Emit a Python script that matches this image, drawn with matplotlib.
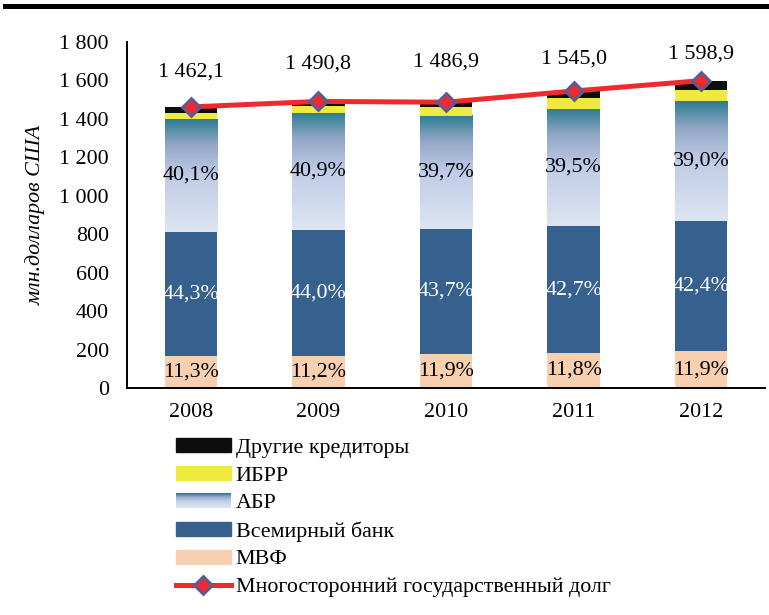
import numpy as np
import matplotlib
matplotlib.use("Agg")
import matplotlib.pyplot as plt
from matplotlib.colors import LinearSegmentedColormap
from matplotlib.patches import Rectangle
from matplotlib.lines import Line2D
from matplotlib.legend_handler import HandlerBase

# данные: млн. долларов США
anos = ["2008", "2009", "2010", "2011", "2012"]
mvf = [165.2, 167.0, 176.9, 182.3, 190.3]
vsemirny_bank = [647.7, 656.0, 649.8, 659.7, 677.9]
abr = [586.3, 609.7, 590.3, 610.3, 623.6]
ibrr = [34.0, 33.0, 45.0, 55.0, 58.0]
drugie = [28.9, 25.1, 24.9, 37.7, 49.1]
dolg_total = [1462.1, 1490.8, 1486.9, 1545.0, 1598.9]

# подписи долей, %
rotulos_mvf = ["11,3%", "11,2%", "11,9%", "11,8%", "11,9%"]
rotulos_vb = ["44,3%", "44,0%", "43,7%", "42,7%", "42,4%"]
rotulos_abr = ["40,1%", "40,9%", "39,7%", "39,5%", "39,0%"]
rotulos_total = ["1 462,1", "1 490,8", "1 486,9", "1 545,0", "1 598,9"]
yticks = [0, 200, 400, 600, 800, 1000, 1200, 1400, 1600, 1800]
yticklabels = ["0", "200", "400", "600", "800", "1 000", "1 200", "1 400", "1 600", "1 800"]

cor_mvf = "#F8CFAF"
cor_vb = "#36608D"
cor_ibrr = "#EEEA3E"
cor_drugie = "#0D0D0D"
cor_linha = "#EE2A2E"
cor_borda = "#5B5A99"
grad_abr = LinearSegmentedColormap.from_list(
    "abr", [(0.0, "#DDE5F2"), (0.5, "#C0CCE7"), (0.78, "#90A7C5"), (1.0, "#2E7C92")])

plt.rcParams["font.family"] = ["Liberation Serif", "DejaVu Serif"]
FS = 15.8


class HandlerGradiente(HandlerBase):
    """ desenha o retângulo com degradê na legenda """
    def create_artists(self, legend, orig_handle, xdescent, ydescent,
                       width, height, fontsize, trans):
        n = 30
        artistas = []
        for i in range(n):
            r = Rectangle((-xdescent, -ydescent + height * i / n), width, height / n + 0.3,
                          facecolor=grad_abr(i / (n - 1)), edgecolor="none", transform=trans)
            artistas.append(r)
        return artistas


fig = plt.figure(figsize=(7.69, 6.15), dpi=100)
ax = fig.add_axes([127 / 769, 1 - 388 / 615, (765 - 127) / 769, (388 - 42) / 615])

x = np.arange(len(anos))
largura = 0.41

b_mvf = np.array(mvf)
b_vb = b_mvf + np.array(vsemirny_bank)
b_abr = b_vb + np.array(abr)
b_ibrr = b_abr + np.array(ibrr)

ax.bar(x, mvf, largura, color=cor_mvf, zorder=2)
ax.bar(x, vsemirny_bank, largura, bottom=b_mvf, color=cor_vb, zorder=2)
# АБР - degradê
for i in range(len(x)):
    grad = np.linspace(0, 1, 200).reshape(-1, 1)
    ax.imshow(grad, extent=[x[i] - largura / 2, x[i] + largura / 2, b_vb[i], b_abr[i]],
              origin="lower", cmap=grad_abr, aspect="auto", zorder=2)
ax.bar(x, ibrr, largura, bottom=b_abr, color=cor_ibrr, zorder=2)
ax.bar(x, drugie, largura, bottom=b_ibrr, color=cor_drugie, zorder=2)

ax.plot(x, dolg_total, color=cor_linha, lw=3.6, marker="D", markersize=9.5,
        markerfacecolor=cor_linha, markeredgecolor=cor_borda, markeredgewidth=2, zorder=4)

# подписи
for i in range(len(x)):
    ax.text(x[i], mvf[i] / 2, rotulos_mvf[i], ha="center", va="center", fontsize=FS, zorder=5)
    ax.text(x[i], b_mvf[i] + vsemirny_bank[i] / 2, rotulos_vb[i], ha="center", va="center",
            fontsize=FS, color="white", zorder=5)
    ax.text(x[i], b_vb[i] + abr[i] / 2, rotulos_abr[i], ha="center", va="center",
            fontsize=FS, zorder=5)

desloc = [25, 27, 29, 23, 19]
for i in range(len(x)):
    ax.annotate(rotulos_total[i], (x[i], dolg_total[i]), xytext=(0, desloc[i]),
                textcoords="offset points", ha="center", va="center", fontsize=FS, zorder=5)

ax.set_xlim(-0.5, len(anos) - 0.5)
ax.set_ylim(0, 1800)
ax.set_xticks(x)
ax.set_xticklabels(anos, fontsize=FS)
ax.set_yticks(yticks)
ax.set_yticklabels(yticklabels, fontsize=FS)
ax.tick_params(axis="both", length=0)
ax.tick_params(axis="x", pad=11)
ax.tick_params(axis="y", pad=13)
for lado in ["top", "right"]:
    ax.spines[lado].set_visible(False)
for lado in ["left", "bottom"]:
    ax.spines[lado].set_linewidth(1.4)
ax.set_ylabel("млн.долларов США", fontsize=FS, fontstyle="italic", labelpad=10)

# legenda
handles = [
    Rectangle((0, 0), 1, 1, color=cor_drugie),
    Rectangle((0, 0), 1, 1, color=cor_ibrr),
    Rectangle((0, 0), 1, 1, color="#8FA6C4"),
    Rectangle((0, 0), 1, 1, color=cor_vb),
    Rectangle((0, 0), 1, 1, color=cor_mvf),
    Line2D([], [], color=cor_linha, lw=3.6, marker="D", markersize=9.5,
           markerfacecolor=cor_linha, markeredgecolor=cor_borda, markeredgewidth=2),
]
nomes = ["Другие кредиторы", "ИБРР", "АБР", "Всемирный банк", "МВФ",
         "Многосторонний государственный долг"]
fig.legend(handles, nomes, loc="upper left", bbox_to_anchor=(176 / 769, 1 - 438 / 615),
           frameon=False, fontsize=FS, handlelength=2.5, handleheight=0.62,
           handletextpad=0.22, labelspacing=0.36, borderpad=0, borderaxespad=0,
           handler_map={handles[2]: HandlerGradiente()})

# linha grossa no topo (resto da legenda da figura)
fig.add_artist(Line2D([0.006, 1.0], [0.991, 0.991], color="black", lw=3.6))

fig.savefig("out.png", dpi=100)
